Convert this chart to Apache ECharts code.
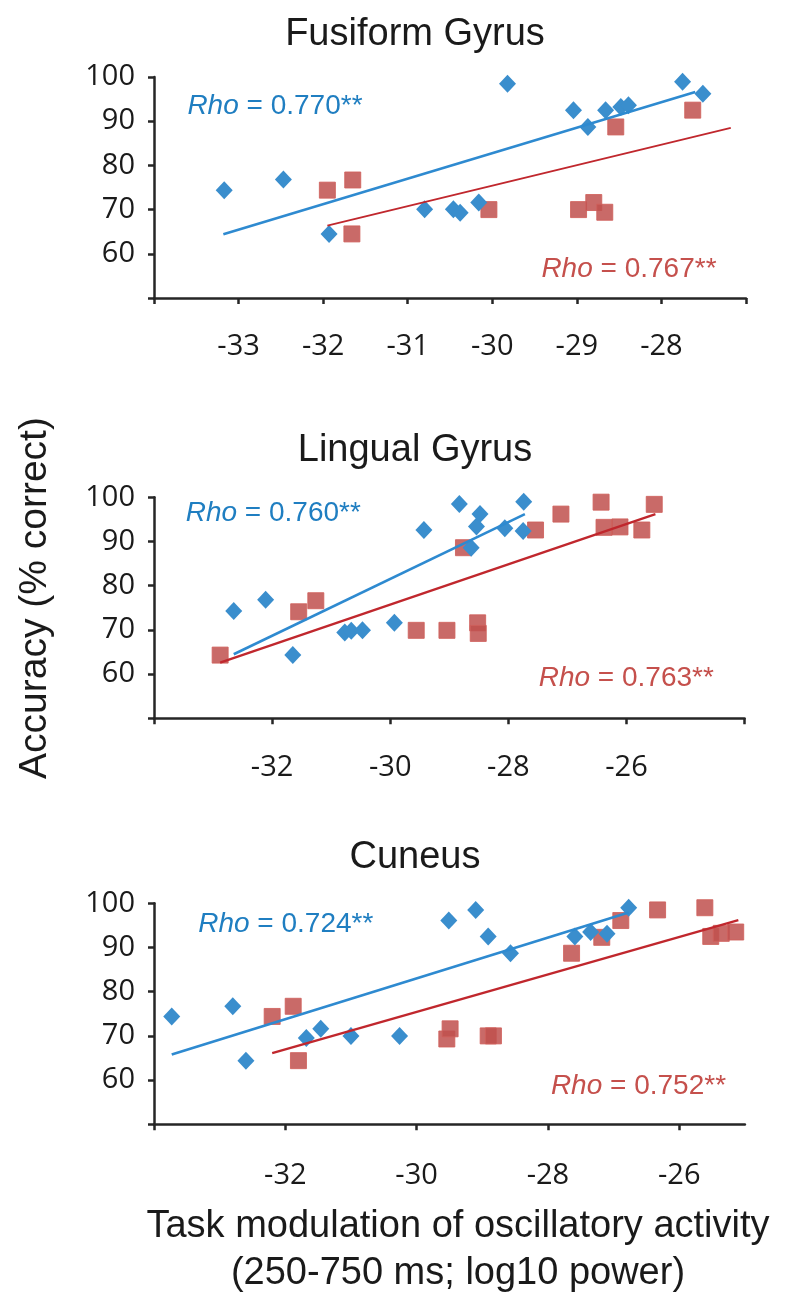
<!DOCTYPE html>
<html>
<head>
<meta charset="utf-8">
<script src="https://cdn.jsdelivr.net/npm/echarts@6/dist/echarts.min.js"></script>
<style>
html,body{margin:0;padding:0;background:#fff;}
#chart{width:791px;height:1300px;}
</style>
</head>
<body>
<div id="chart"></div>
<script>
// ---------- data ----------
const panelTitles = ['Fusiform Gyrus', 'Lingual Gyrus', 'Cuneus'];
const rhoDiamond = ['0.770**', '0.760**', '0.724**'];
const rhoSquare = ['0.767**', '0.763**', '0.752**'];

const yTicks = [50, 60, 70, 80, 90, 100];
const yLabels = [60, 70, 80, 90, 100];

const fusiformXTicks = [-34, -33, -32, -31, -30, -29, -28, -27];
const fusiformXLabels = [-33, -32, -31, -30, -29, -28];
const lingualXTicks = [-34, -32, -30, -28, -26, -24];
const lingualXLabels = [-32, -30, -28, -26];
const cuneusXTicks = [-34, -32, -30, -28, -26];
const cuneusXLabels = [-32, -30, -28, -26];

const fusiformDiamondX = [-33.17, -32.47, -31.93, -30.80, -30.46, -30.38, -30.16, -29.82, -29.04, -28.87, -28.66, -28.48, -28.39, -27.75, -27.51];
const fusiformDiamondY = [74.4, 76.8, 64.5, 70.1, 70.1, 69.3, 71.6, 98.5, 92.5, 88.7, 92.5, 93.2, 93.6, 98.9, 96.2];
const fusiformSquareX = [-31.95, -31.65, -31.66, -30.04, -28.98, -28.80, -28.67, -28.54, -27.63];
const fusiformSquareY = [74.4, 76.7, 64.5, 70.0, 70.0, 71.6, 69.4, 88.7, 92.5];
const fusiformDiamondFitX = [-33.18, -27.60];
const fusiformDiamondFitY = [64.4, 96.6];
const fusiformSquareFitX = [-31.95, -27.18];
const fusiformSquareFitY = [66.4, 88.5];

const lingualDiamondX = [-32.65, -32.11, -31.65, -30.77, -30.66, -30.47, -29.93, -29.43, -28.83, -28.63, -28.54, -28.48, -28.06, -27.75, -27.74];
const lingualDiamondY = [74.3, 76.8, 64.3, 69.4, 69.8, 69.9, 71.6, 92.6, 98.5, 88.6, 93.4, 96.2, 93.0, 92.4, 99.0];
const lingualSquareX = [-32.88, -31.55, -31.26, -29.56, -29.04, -28.76, -28.52, -28.51, -27.54, -27.11, -26.43, -26.38, -26.11, -25.74, -25.53];
const lingualSquareY = [64.3, 74.1, 76.6, 69.9, 69.9, 88.6, 71.6, 69.2, 92.6, 96.2, 98.9, 93.2, 93.3, 92.6, 98.4];
const lingualDiamondFitX = [-32.65, -27.72];
const lingualDiamondFitY = [64.5, 96.2];
const lingualSquareFitX = [-32.88, -25.51];
const lingualSquareFitY = [62.6, 96.2];

const cuneusDiamondX = [-33.73, -32.80, -32.60, -31.68, -31.46, -31.00, -30.26, -29.51, -29.10, -28.91, -28.57, -27.59, -27.35, -27.10, -26.77];
const cuneusDiamondY = [74.4, 76.7, 64.4, 69.5, 71.6, 70.0, 70.0, 96.1, 98.5, 92.5, 88.7, 92.5, 93.5, 93.1, 99.0];
const cuneusSquareX = [-32.20, -31.88, -31.80, -29.54, -29.49, -28.91, -28.83, -27.64, -27.18, -26.89, -26.33, -25.61, -25.52, -25.36, -25.14];
const cuneusSquareY = [74.4, 76.7, 64.4, 69.3, 71.6, 70.0, 70.0, 88.7, 92.3, 96.1, 98.5, 99.0, 92.5, 93.2, 93.5];
const cuneusDiamondFitX = [-33.73, -26.77];
const cuneusDiamondFitY = [65.8, 97.9];
const cuneusSquareFitX = [-32.20, -25.10];
const cuneusSquareFitY = [66.1, 96.2];

// ---------- build ----------
const zip = (xs, ys) => xs.map((x, i) => [x, ys[i]]);
const AXIS = '#262626';
const BLUE = '#3A8ECD', BLUE_LINE = '#2E8AD0', BLUE_TXT = '#1F7EC1';
const RED = '#C0504D', RED_LINE = '#C0272D', RED_TXT = '#C5504C';
const TICK_FONT = 'Open Sans';
const TEXT_FONT = 'Liberation Sans';

const panels = [
  {top: 77,    width: 592,   xmin: -34, xmax: -27, ticks: fusiformXTicks, labels: fusiformXLabels, margin: 34,
   dX: fusiformDiamondX, dY: fusiformDiamondY, sX: fusiformSquareX, sY: fusiformSquareY,
   dfX: fusiformDiamondFitX, dfY: fusiformDiamondFitY, sfX: fusiformSquareFitX, sfY: fusiformSquareFitY, redW: 1.8},
  {top: 497.3, width: 590.6, xmin: -34, xmax: -24, ticks: lingualXTicks, labels: lingualXLabels, margin: 35,
   dX: lingualDiamondX, dY: lingualDiamondY, sX: lingualSquareX, sY: lingualSquareY,
   dfX: lingualDiamondFitX, dfY: lingualDiamondFitY, sfX: lingualSquareFitX, sfY: lingualSquareFitY, redW: 2.4},
  {top: 903.3, width: 590.9, xmin: -34, xmax: -25, ticks: cuneusXTicks, labels: cuneusXLabels, margin: 37,
   dX: cuneusDiamondX, dY: cuneusDiamondY, sX: cuneusSquareX, sY: cuneusSquareY,
   dfX: cuneusDiamondFitX, dfY: cuneusDiamondFitY, sfX: cuneusSquareFitX, sfY: cuneusSquareFitY, redW: 2.4}
];

const grid = [], xAxis = [], yAxis = [], series = [];
panels.forEach((p, i) => {
  grid.push({left: 154, top: p.top, width: p.width, height: 221, containLabel: false});
  xAxis.push({
    type: 'value', gridIndex: i, min: p.xmin, max: p.xmax,
    axisLine: {show: true, onZero: false, lineStyle: {color: AXIS, width: 2.5}},
    axisTick: {show: true, inside: false, length: 6, customValues: p.ticks, lineStyle: {color: AXIS, width: 2.5}},
    axisLabel: {show: true, customValues: p.labels, margin: p.margin, fontFamily: TICK_FONT, fontSize: 29, color: '#1a1a1a'},
    splitLine: {show: false}
  });
  yAxis.push({
    type: 'value', gridIndex: i, min: 50, max: 100,
    axisLine: {show: true, onZero: false, lineStyle: {color: AXIS, width: 2.5}},
    axisTick: {show: true, inside: false, length: 6, customValues: yTicks, lineStyle: {color: AXIS, width: 2.5}},
    axisLabel: {show: true, customValues: yLabels, margin: 19, fontFamily: TICK_FONT, fontSize: 29, color: '#1a1a1a'},
    splitLine: {show: false}
  });
  series.push({
    type: 'scatter', xAxisIndex: i, yAxisIndex: i, symbol: 'rect', symbolSize: 16, z: 2,
    itemStyle: {color: RED, opacity: 0.85, borderColor: '#D0605C', borderWidth: 1},
    data: zip(p.sX, p.sY)
  });
  series.push({
    type: 'scatter', xAxisIndex: i, yAxisIndex: i, symbol: 'diamond', symbolSize: [17, 18], z: 3,
    itemStyle: {color: BLUE, opacity: 1},
    data: zip(p.dX, p.dY)
  });
  series.push({
    type: 'line', xAxisIndex: i, yAxisIndex: i, symbol: 'none', z: 4, silent: true,
    lineStyle: {color: BLUE_LINE, width: 2.6},
    data: zip(p.dfX, p.dfY)
  });
  series.push({
    type: 'line', xAxisIndex: i, yAxisIndex: i, symbol: 'none', z: 4, silent: true,
    lineStyle: {color: RED_LINE, width: p.redW},
    data: zip(p.sfX, p.sfY)
  });
});

function txt(text, x, y, size, opts) {
  return Object.assign({
    type: 'text', x: x, y: y, silent: true,
    style: {text: text, font: size + 'px "' + TEXT_FONT + '"', fontSize: size, fontFamily: TEXT_FONT,
            fill: '#1a1a1a', textAlign: 'center', textVerticalAlign: 'middle', align: 'center', verticalAlign: 'middle'}
  }, opts || {});
}
function rho(value, x, y, color) {
  const base = {fontSize: 28, fontFamily: TEXT_FONT, fill: color, color: color};
  return {
    type: 'text', x: x, y: y, silent: true,
    style: {
      text: '{i|Rho}{r| = ' + value + '}',
      fontSize: 28, fontFamily: TEXT_FONT, fill: color,
      textAlign: 'left', textVerticalAlign: 'middle', align: 'left', verticalAlign: 'middle',
      rich: {
        i: Object.assign({fontStyle: 'italic'}, base),
        r: Object.assign({fontStyle: 'normal'}, base)
      }
    }
  };
}

const graphic = [
  txt(panelTitles[0], 415, 35, 38),
  txt(panelTitles[1], 415, 451, 38),
  txt(panelTitles[2], 415, 858, 38),
  txt('Accuracy (% correct)', 35.5, 598, 39, {rotation: Math.PI / 2}),
  txt('Task modulation of oscillatory activity', 458, 1226.5, 38),
  txt('(250-750 ms; log10 power)', 458, 1273.2, 38),
  rho(rhoDiamond[0], 187.4, 106, BLUE_TXT),
  rho(rhoSquare[0], 541.4, 269, RED_TXT),
  rho(rhoDiamond[1], 185.7, 513.5, BLUE_TXT),
  rho(rhoSquare[1], 538.7, 678, RED_TXT),
  rho(rhoDiamond[2], 198.2, 924, BLUE_TXT),
  rho(rhoSquare[2], 550.9, 1086.5, RED_TXT)
];

const chart = echarts.init(document.getElementById('chart'), null, {renderer: 'canvas'});
chart.setOption({
  animation: false,
  backgroundColor: '#ffffff',
  grid: grid, xAxis: xAxis, yAxis: yAxis, series: series, graphic: graphic
});
</script>
</body>
</html>
